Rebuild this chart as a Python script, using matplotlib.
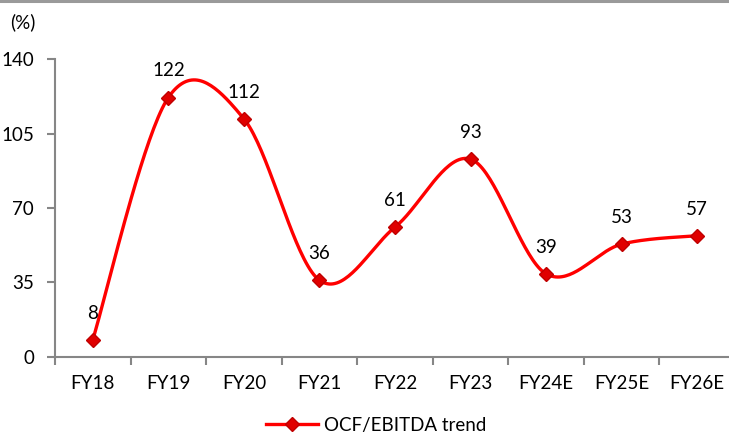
import numpy as np
import matplotlib
matplotlib.use("Agg")
import matplotlib.pyplot as plt
from matplotlib.lines import Line2D

plt.rcParams['font.family'] = ['Lato', 'DejaVu Sans']

categories = ["FY18", "FY19", "FY20", "FY21", "FY22", "FY23", "FY24E", "FY25E", "FY26E"]
values = [8, 122, 112, 36, 61, 93, 39, 53, 57]
yticks = [0, 35, 70, 105, 140]
series_name = "OCF/EBITDA trend"


def smooth_curve(x, y, n=40):
    """Bezier smoothing through every point (cardinal spline, tension 1/6)."""
    x = np.asarray(x, float)
    y = np.asarray(y, float)
    px, py = [], []
    m = len(x)
    for i in range(m - 1):
        x0, y0 = (x[i - 1], y[i - 1]) if i > 0 else (x[i], y[i])
        x3, y3 = (x[i + 2], y[i + 2]) if i + 2 < m else (x[i + 1], y[i + 1])
        c1x = x[i] + (x[i + 1] - x0) / 6
        c1y = y[i] + (y[i + 1] - y0) / 6
        c2x = x[i + 1] - (x3 - x[i]) / 6
        c2y = y[i + 1] - (y3 - y[i]) / 6
        t = np.linspace(0, 1, n)
        bx = (1 - t) ** 3 * x[i] + 3 * (1 - t) ** 2 * t * c1x + 3 * (1 - t) * t ** 2 * c2x + t ** 3 * x[i + 1]
        by = (1 - t) ** 3 * y[i] + 3 * (1 - t) ** 2 * t * c1y + 3 * (1 - t) * t ** 2 * c2y + t ** 3 * y[i + 1]
        px.extend(bx)
        py.extend(by)
    return np.array(px), np.array(py)


W, H = 729, 436
FS = 13.5
fig = plt.figure(figsize=(W / 100, H / 100), dpi=100)

# axes box in pixel terms; the category axis runs slightly past the right edge
left, right, top, bottom = 55, 735, 59.3, 356.7
ax = fig.add_axes([left / W, 1 - bottom / H, (right - left) / W, (bottom - top) / H])

xs = np.arange(len(categories))
sx, sy = smooth_curve(xs, values)
ax.plot(sx, sy, color="#FF0000", lw=2.4, solid_capstyle="round", zorder=2)
ax.plot(xs, values, linestyle="none", marker="D", markersize=7.5,
        markerfacecolor="#E00000", markeredgecolor="#C00000", zorder=3)

for xi, v in zip(xs, values):
    ax.annotate(f"{v}", (xi, v), xytext=(0, 13), textcoords="offset points",
                ha="center", va="bottom", fontsize=FS, color="#000000")

ax.set_xlim(-0.5, len(categories) - 0.5)
ax.set_ylim(0, 140)
ax.set_yticks(yticks)
ax.set_yticklabels([str(t) for t in yticks])
ax.set_xticks(xs)
ax.set_xticklabels(categories)
ax.set_xticks(np.arange(-0.5, len(categories) + 0.5, 1), minor=True)

spine_c = "#868686"
for s in ["top", "right"]:
    ax.spines[s].set_visible(False)
for s in ["left", "bottom"]:
    ax.spines[s].set_color(spine_c)
    ax.spines[s].set_linewidth(1.5)

ax.tick_params(axis="y", length=6, width=1.5, color=spine_c, labelsize=FS, pad=9)
ax.tick_params(axis="x", which="major", length=0, labelsize=FS, pad=13)
ax.tick_params(axis="x", which="minor", length=6, width=1.5, color=spine_c)
ax.set_facecolor("none")

fig.text(10 / W, 1 - 22 / H, "(%)", fontsize=FS, ha="left", va="center")

# thin rule along the top edge
fig.add_artist(Line2D([0, 1], [1 - 1 / H, 1 - 1 / H], transform=fig.transFigure,
                      color="#9A9A9A", lw=2.2))

handle = Line2D([], [], color="#FF0000", lw=2.4, marker="D", markersize=7.5,
                markerfacecolor="#E00000", markeredgecolor="#C00000")
fig.legend([handle], [series_name], loc="center", bbox_to_anchor=(376 / W, 1 - 425 / H),
           frameon=False, fontsize=FS, handlelength=2.8, handletextpad=0.3)

fig.savefig("out.png", dpi=100, facecolor="white")
